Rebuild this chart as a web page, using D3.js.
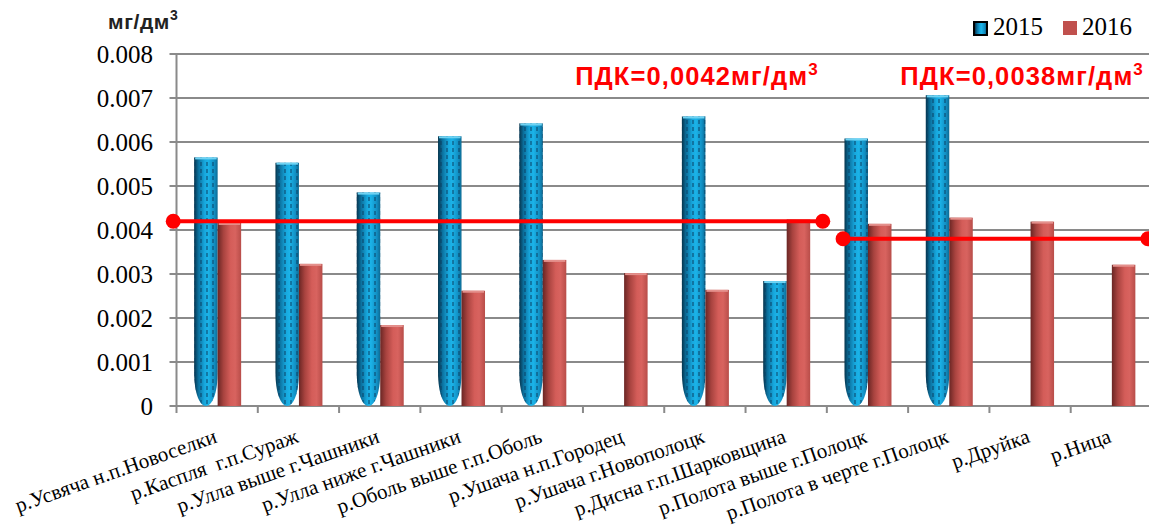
<!DOCTYPE html>
<html>
<head>
<meta charset="utf-8">
<script src="https://cdn.jsdelivr.net/npm/d3@7"></script>
<style>
  html, body { margin: 0; padding: 0; background: #fff; }
  svg { display: block; }
</style>
</head>
<body>
<svg id="chart" width="1149" height="526"></svg>
<script>
// ---- data ----
const categories = [
  "р.Усвяча н.п.Новоселки",
  "р.Каспля  г.п.Сураж",
  "р.Улла выше г.Чашники",
  "р.Улла ниже г.Чашники",
  "р.Оболь выше г.п.Оболь",
  "р.Ушача н.п.Городец",
  "р.Ушача г.Новополоцк",
  "р.Дисна г.п.Шарковщина",
  "р.Полота выше г.Полоцк",
  "р.Полота в черте г.Полоцк",
  "р.Друйка",
  "р.Ница"
];
const seriesNames = ["2015", "2016"];
const values2015 = [0.00565, 0.00553, 0.00485, 0.00613, 0.00642, null, 0.00658, 0.00284, 0.00608, 0.00706, null, null];
const values2016 = [0.00416, 0.00323, 0.00184, 0.00262, 0.00332, 0.00302, 0.00264, 0.00424, 0.00414, 0.00428, 0.00419, 0.00321];
const yTicks = [0, 0.001, 0.002, 0.003, 0.004, 0.005, 0.006, 0.007, 0.008];
const pdkValues = [0.0042, 0.0038];
const pdkFrom = [-0.04, 8.2];     // in category-index units
const pdkTo = [7.95, 11.95];
const pdkLabels = ["ПДК=0,0042мг/дм", "ПДК=0,0038мг/дм"];
const unitLabel = "мг/дм";

// ---- layout ----
const svg = d3.select("#chart");
const pLeft = 176.5, pRight = 1152, pTop = 54, pBottom = 406;

const x = d3.scaleBand().domain(categories).range([pLeft, pRight]).padding(0);
const xi = d3.scaleLinear().domain([0, categories.length]).range([pLeft, pRight]);
const bw = x.bandwidth();
const xs = d3.scaleBand().domain(seriesNames).range([bw / 2 - 23, bw / 2 + 24]).padding(0);
const y = d3.scaleLinear().domain([0, 0.008]).range([pBottom, pTop]);

const defs = svg.append("defs");
const gb = defs.append("linearGradient").attr("id", "gBlue").attr("x1", 0).attr("x2", 1).attr("y1", 0).attr("y2", 0);
[[0, "#06344c"], [0.18, "#0b6f9c"], [0.45, "#17a8de"], [0.6, "#1bb3e8"], [0.85, "#1290c4"], [1, "#0c6a93"]]
  .forEach(([o, c]) => gb.append("stop").attr("offset", o).attr("stop-color", c));
const gr = defs.append("linearGradient").attr("id", "gRed").attr("x1", 0).attr("x2", 1).attr("y1", 0).attr("y2", 0);
[[0, "#6a2624"], [0.25, "#a8433f"], [0.55, "#d45d59"], [0.75, "#d8635f"], [1, "#b84d49"]]
  .forEach(([o, c]) => gr.append("stop").attr("offset", o).attr("stop-color", c));
const pat = defs.append("pattern").attr("id", "pDots").attr("patternUnits", "userSpaceOnUse")
  .attr("width", 6).attr("height", 7);
pat.append("rect").attr("x", 2).attr("y", 1).attr("width", 2).attr("height", 4)
  .attr("fill", "#0a3f63").attr("opacity", 0.5);

// ---- gridlines & y axis ----
const grid = svg.append("g");
grid.selectAll("line.h").data(yTicks).join("line")
  .attr("x1", pLeft - 7).attr("x2", 1149)
  .attr("y1", d => y(d)).attr("y2", d => y(d))
  .attr("stroke", "#8a8a8a").attr("stroke-width", 2);
grid.append("line").attr("x1", pLeft).attr("x2", pLeft).attr("y1", y(0.008)).attr("y2", y(0))
  .attr("stroke", "#8a8a8a").attr("stroke-width", 2);

svg.append("g").selectAll("text").data(yTicks).join("text")
  .attr("x", 153).attr("y", d => y(d) + 8.5)
  .attr("text-anchor", "end")
  .attr("font-family", "'Liberation Serif', 'Times New Roman', 'DejaVu Serif', serif")
  .attr("font-size", 25).attr("fill", "#000")
  .text(d => d === 0 ? "0" : d3.format(".3f")(d));

svg.append("g").selectAll("line").data(d3.range(categories.length + 1)).join("line")
  .attr("x1", d => xi(d)).attr("x2", d => xi(d))
  .attr("y1", y(0)).attr("y2", y(0) + 7)
  .attr("stroke", "#8a8a8a").attr("stroke-width", 2);

// ---- bars ----
function bluePath(x0, w, yt, yb) {
  const x1 = x0 + w, xm = x0 + w / 2, h = Math.min(34, (yb - yt));
  return `M${x0},${yt} L${x1},${yt} L${x1},${yb - h} C${x1},${yb - h * 0.35} ${xm + 6},${yb} ${xm},${yb} C${xm - 6},${yb} ${x0},${yb - h * 0.35} ${x0},${yb - h} Z`;
}
const bars = svg.append("g");
const blueData = categories.map((c, i) => ({ c, v: values2015[i] })).filter(d => d.v != null);
const redData = categories.map((c, i) => ({ c, v: values2016[i] })).filter(d => d.v != null);

bars.selectAll("path.b").data(blueData).join("path")
  .attr("d", d => bluePath(x(d.c) + xs("2015"), xs.bandwidth(), y(d.v), y(0)))
  .attr("fill", "url(#gBlue)");
bars.selectAll("path.bd").data(blueData).join("path")
  .attr("d", d => bluePath(x(d.c) + xs("2015"), xs.bandwidth(), y(d.v), y(0)))
  .attr("fill", "url(#pDots)");
bars.selectAll("rect.bt").data(blueData).join("rect")
  .attr("x", d => x(d.c) + xs("2015") + 1).attr("y", d => y(d.v))
  .attr("width", xs.bandwidth() - 2).attr("height", 2)
  .attr("fill", "#6fd3f3");

bars.selectAll("rect.r").data(redData).join("rect")
  .attr("x", d => x(d.c) + xs("2016")).attr("y", d => y(d.v))
  .attr("width", xs.bandwidth()).attr("height", d => y(0) - y(d.v))
  .attr("fill", "url(#gRed)");
bars.selectAll("rect.rt").data(redData).join("rect")
  .attr("x", d => x(d.c) + xs("2016") + 1).attr("y", d => y(d.v))
  .attr("width", xs.bandwidth() - 2).attr("height", 2)
  .attr("fill", "#e4908c");

// ---- PDK lines ----
const pdk = svg.append("g");
pdkValues.forEach((v, i) => {
  pdk.append("line")
    .attr("x1", xi(pdkFrom[i])).attr("x2", xi(pdkTo[i]))
    .attr("y1", y(v)).attr("y2", y(v))
    .attr("stroke", "#ff0000").attr("stroke-width", 4);
  [pdkFrom[i], pdkTo[i]].forEach(p => {
    pdk.append("circle").attr("cx", xi(p)).attr("cy", y(v)).attr("r", 7.5).attr("fill", "#ff0000");
  });
  const t = pdk.append("text")
    .attr("x", xi(pdkTo[i]) - 4).attr("y", 85)
    .attr("text-anchor", "end")
    .attr("font-family", "'Liberation Sans', Arial, sans-serif")
    .attr("font-weight", "bold").attr("font-size", 25.5)
    .attr("letter-spacing", 1.1)
    .attr("fill", "#ff0000");
  t.append("tspan").text(pdkLabels[i]);
  t.append("tspan").attr("font-size", 17).attr("dy", -10).text("3");
});

// ---- y unit label ----
const ul = svg.append("text").attr("x", 108).attr("y", 29)
  .attr("font-family", "'Liberation Sans', Arial, sans-serif")
  .attr("font-weight", "bold").attr("font-size", 21).attr("fill", "#222")
  .attr("letter-spacing", 0.6);
ul.append("tspan").text(unitLabel);
ul.append("tspan").attr("font-size", 14).attr("dy", -9).text("3");

// ---- legend ----
const legend = svg.append("g");
const legX = [973, 1063];
seriesNames.forEach((s, i) => {
  if (i === 0) {
    legend.append("rect").attr("x", legX[i]).attr("y", 21).attr("width", 15).attr("height", 15)
      .attr("fill", "#000");
    legend.append("rect").attr("x", legX[i] + 2).attr("y", 23).attr("width", 11).attr("height", 11)
      .attr("fill", "url(#gBlue)");
  } else {
    legend.append("rect").attr("x", legX[i]).attr("y", 21).attr("width", 14).attr("height", 14)
      .attr("fill", "#c0504d");
  }
  legend.append("text").attr("x", legX[i] + (i === 0 ? 20 : 19)).attr("y", 35)
    .attr("font-family", "'Liberation Serif', 'Times New Roman', 'DejaVu Serif', serif")
    .attr("font-size", 25).attr("fill", "#000").text(s);
});

// ---- x labels ----
svg.append("g").selectAll("text").data(categories).join("text")
  .attr("transform", d => `translate(${x(d) + bw / 2 + 1},${442}) rotate(-19.5)`)
  .attr("text-anchor", "end")
  .attr("font-family", "'Liberation Serif', 'Times New Roman', 'DejaVu Serif', serif")
  .attr("font-size", 21).attr("fill", "#000")
  .style("white-space", "pre")
  .text(d => d);
</script>
</body>
</html>
